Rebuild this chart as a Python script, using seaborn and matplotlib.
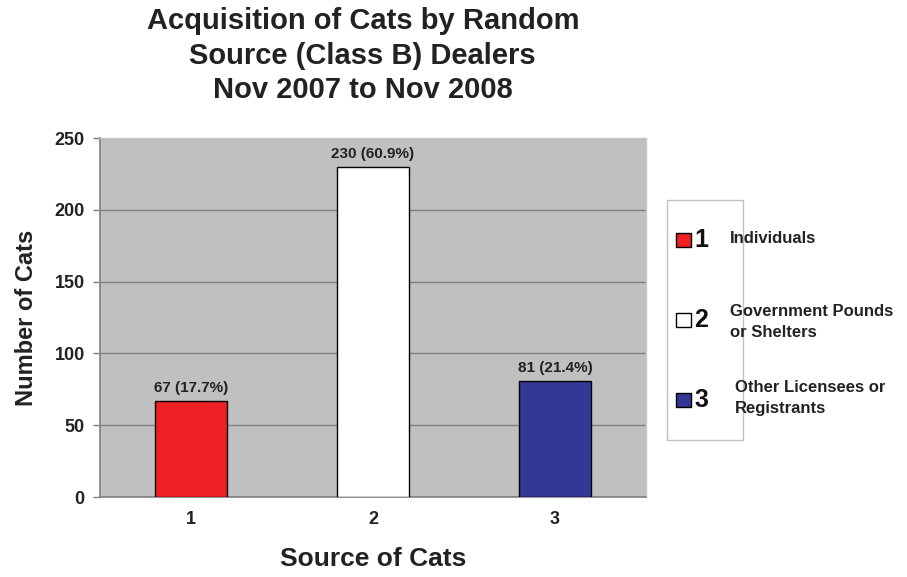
import matplotlib
matplotlib.use("Agg")
import matplotlib.pyplot as plt
import seaborn as sns
import pandas as pd
from matplotlib.patches import Rectangle

# Cat acquisition counts by source
sources = ["1", "2", "3"]
counts = [67, 230, 81]
percents = [17.7, 60.9, 21.4]
source_names = ["Individuals", "Government Pounds\nor Shelters", "Other Licensees or\nRegistrants"]
bar_colors = ["#EE2024", "#FFFFFF", "#333795"]
y_ticks = [0, 50, 100, 150, 200, 250]

sns.set_theme(style="white")
plt.rcParams["font.family"] = ["Liberation Sans", "DejaVu Sans"]
plt.rcParams["font.weight"] = "bold"

df = pd.DataFrame({"source": sources, "count": counts})

fig = plt.figure(figsize=(9.07, 5.77), dpi=100)
ax = fig.add_axes([0.1103, 0.1386, 0.602, 0.622])
ax.set_facecolor("#C0C0C0")

sns.barplot(data=df, x="source", y="count", hue="source", palette=bar_colors,
            saturation=1, width=0.4, edgecolor="black", linewidth=1.0,
            legend=False, ax=ax, zorder=3)

ax.set_ylim(0, 250)
ax.set_xlim(-0.5, 2.5)
ax.set_yticks(y_ticks)
ax.set_yticklabels([str(v) for v in y_ticks], fontsize=13, fontweight="bold",
                   color="#222222")
ax.set_xticks([0, 1, 2])
ax.set_xticklabels(sources, fontsize=13, fontweight="bold", color="#222222")
ax.tick_params(axis="x", length=0, pad=10)
ax.tick_params(axis="y", length=5, color="#808080", width=1, pad=6, left=True)

# category separators under the x axis
ax.set_xticks([0.5, 1.5], minor=True)
ax.tick_params(axis="x", which="minor", length=6, color="#808080", width=1)

ax.yaxis.grid(True, color="#808080", linewidth=1.0)
ax.set_axisbelow(True)
for side in ["top", "right"]:
    ax.spines[side].set_color("#C8C8C8")
    ax.spines[side].set_linewidth(1.0)
for side in ["left", "bottom"]:
    ax.spines[side].set_color("#808080")
    ax.spines[side].set_linewidth(1.2)

for i, (c, p) in enumerate(zip(counts, percents)):
    ax.text(i, c + 4, f"{c} ({p}%)", ha="center", va="bottom",
            fontsize=11, fontweight="bold", color="#222222")

ax.set_xlabel("Source of Cats", fontsize=19, fontweight="bold", labelpad=14,
              color="#222222")
ax.set_ylabel("Number of Cats", fontsize=17, fontweight="bold", labelpad=12,
              color="#222222")

fig.text(0.40, 0.988, "Acquisition of Cats by Random\nSource (Class B) Dealers\nNov 2007 to Nov 2008",
         ha="center", va="top", fontsize=21, fontweight="bold", color="#222222",
         linespacing=1.3)

# key: box with swatches and numbers, descriptions beside it
fig.patches.append(Rectangle((667 / 907, 1 - 440 / 577), 76 / 907, 240 / 577,
                             transform=fig.transFigure, facecolor="white",
                             edgecolor="#C0C0C0", linewidth=1.0))
key_y = [240, 320, 400]
text_x = [730, 730, 735]
text_y = [238, 322, 398]
for color, num, name, ky, tx, ty in zip(bar_colors, sources, source_names,
                                        key_y, text_x, text_y):
    yf = 1 - ky / 577
    fig.patches.append(Rectangle((676 / 907, yf - 7 / 577), 15 / 907, 14 / 577,
                                 transform=fig.transFigure, facecolor=color,
                                 edgecolor="black", linewidth=1.0))
    fig.text(694 / 907, yf, num, ha="left", va="center", fontsize=18,
             fontweight="bold", color="#111111")
    fig.text(tx / 907, 1 - ty / 577, name, ha="left", va="center", fontsize=12,
             fontweight="bold", color="#222222", linespacing=1.5)

fig.savefig("out.png", dpi=100, facecolor="white")
